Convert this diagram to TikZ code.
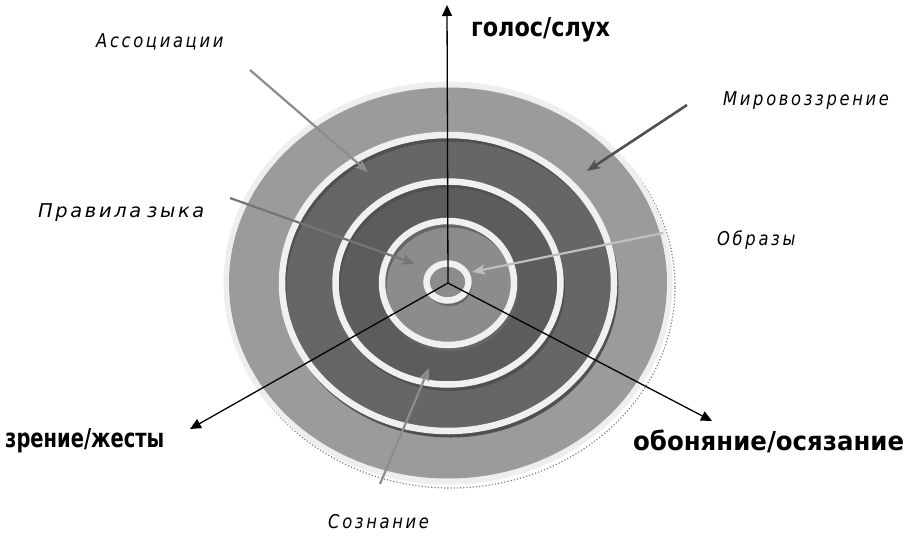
\documentclass[tikz,border=0pt]{standalone}
\usepackage{fontspec}
\setmainfont{DejaVu Sans}
\newfontfamily\boldA[FakeStretch=0.86]{DejaVu Sans}
\newfontfamily\boldB[FakeStretch=0.75]{DejaVu Sans}
\newfontfamily\boldC[FakeStretch=0.94]{DejaVu Sans}
\newfontfamily\itlab[FakeStretch=0.86,LetterSpace=14]{DejaVu Sans}
\newfontfamily\itwide[FakeStretch=1.02,LetterSpace=14]{DejaVu Sans}
\usetikzlibrary{arrows.meta}
\definecolor{rimc}{HTML}{EEEEEE}
\definecolor{outerc}{HTML}{9B9B9B}
\definecolor{band1}{HTML}{666666}
\definecolor{band2}{HTML}{5C5C5C}
\definecolor{innerc}{HTML}{8C8C8C}
\definecolor{ringc}{HTML}{F0F0F0}
\definecolor{shadc}{HTML}{505050}
\tikzset{
  ringline/.style={draw=ringc,line width=6.5pt},
  ringshadow/.style={draw=shadc,line width=5pt},
  axisline/.style={draw=black,line width=1.3pt,-{Triangle[length=11pt,width=10pt]}},
  pointer/.style={line width=2.2pt,-{Stealth[length=13pt,width=10pt,inset=3pt]}},
  biglabel/.style={inner sep=0pt,anchor=west},
  bigsize/.style={font=#1\bfseries\fontsize{26}{28}\selectfont},
  smalllabel/.style={inner sep=0pt,anchor=west,font=\itlab\itshape\fontsize{19}{21}\selectfont}
}
\begin{document}
\begin{tikzpicture}[x=1pt,y=-1pt]
\useasboundingbox (0,0) rectangle (907,536);
\coordinate (c) at (448,283);
% outer disc with shadow
\draw[draw=gray,dotted,line width=1.2pt] (451,287) ellipse [x radius=224pt, y radius=201pt];
\fill[rimc] (c) ellipse [x radius=224.5pt, y radius=201.5pt];
\fill[outerc] (c) ellipse [x radius=219pt, y radius=195.5pt];
% bands
\fill[band1] (c) ellipse [x radius=166pt, y radius=148pt];
\fill[band2] (c) ellipse [x radius=112.5pt, y radius=101.5pt];
\fill[innerc] (c) ellipse [x radius=66pt, y radius=62pt];
% ring shadows
\draw[ringshadow] (450,287) ellipse [x radius=166pt, y radius=148pt];
\draw[ringshadow] (450,287) ellipse [x radius=112.5pt, y radius=101.5pt];
\draw[ringshadow,draw=band1] (450,287) ellipse [x radius=66pt, y radius=62pt];
\draw[ringshadow,draw=band1,line width=4pt] (449,285) ellipse [x radius=21pt, y radius=19pt];
% white rings
\draw[ringline] (c) ellipse [x radius=166pt, y radius=148pt];
\draw[ringline] (c) ellipse [x radius=112.5pt, y radius=101.5pt];
\draw[ringline] (c) ellipse [x radius=66pt, y radius=62pt];
\draw[ringline,fill=innerc] (447.5,282) ellipse [x radius=21pt, y radius=18.5pt];
% axes
\coordinate (up) at (447,5);
\coordinate (lf) at (190,429);
\coordinate (rt) at (712,421);
\draw[axisline] (c) -- (up);
\draw[axisline] (c) -- (lf);
\draw[axisline] (c) -- (rt);
% axis labels
\node[biglabel,bigsize=\boldA] (lvoice) at (471,30) {голос/слух};
\node[biglabel,bigsize=\boldB] (lsight) at (5,441) {зрение/жесты};
\node[biglabel,bigsize=\boldC] (lsmell) at (633,441) {обоняние/осязание};
% layer labels
\node[smalllabel] (lassoc) at (96,42) {Ассоциации};
\node[smalllabel] (lworld) at (723,101) {Мировоззрение};
\node[smalllabel,font=\itwide\itshape\fontsize{19}{21}\selectfont] (lrules) at (38,213) {Правила\hspace{6pt}зыка};
\node[smalllabel] (limg) at (717,240) {Образы};
\node[smalllabel] (lcons) at (328,522) {Сознание};
% pointers
\coordinate (a1s) at (250,70);   \coordinate (a1e) at (368,172);
\coordinate (a2s) at (687,105);  \coordinate (a2e) at (587,171);
\coordinate (a3s) at (230,198);  \coordinate (a3e) at (415,264);
\coordinate (a4s) at (663,233);  \coordinate (a4e) at (472,272);
\coordinate (a5s) at (380,484);  \coordinate (a5e) at (429,368);
\draw[pointer,draw=innerc,fill=innerc] (a1s) -- (a1e);
\draw[pointer,draw=shadc,fill=shadc,line width=2.6pt] (a2s) -- (a2e);
\draw[pointer,draw=band1!90!white,fill=band1!90!white] (a3s) -- (a3e);
\draw[pointer,draw=gray!50,fill=gray!50] (a4s) -- (a4e);
\draw[pointer,draw=innerc,fill=innerc] (a5s) -- (a5e);
\end{tikzpicture}
\end{document}
